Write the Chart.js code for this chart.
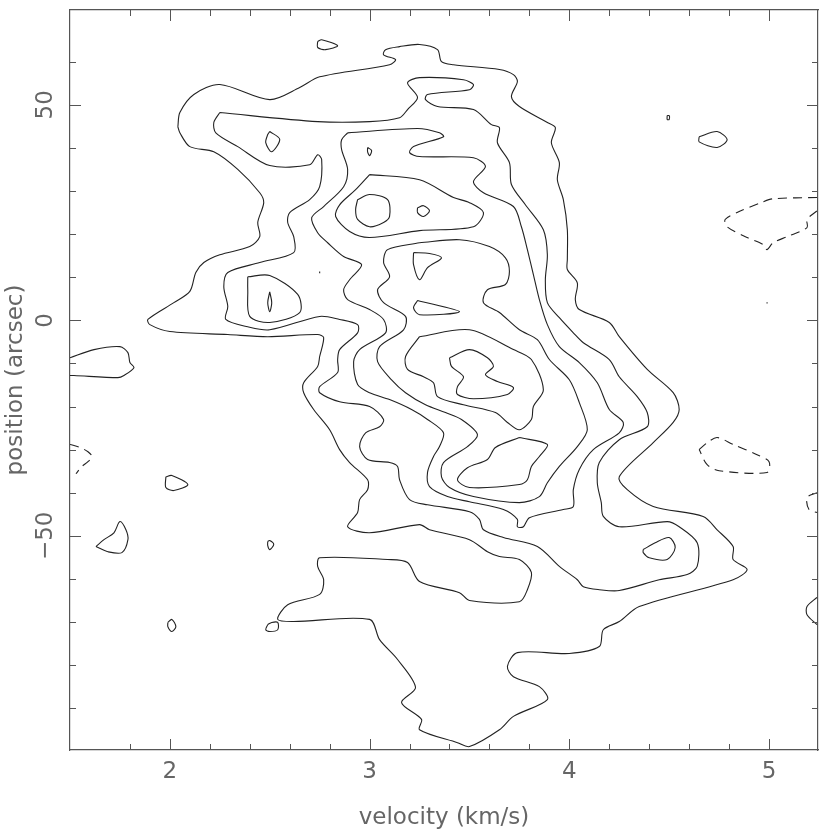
<!DOCTYPE html>
<html>
<head>
<meta charset="utf-8">
<script src="https://cdn.jsdelivr.net/npm/chart.js@4.4.1/dist/chart.umd.min.js"></script>
<style>
  html, body { margin: 0; padding: 0; background: #fff; }
  canvas { display: block; }
</style>
</head>
<body>
<canvas id="pvChart" width="830" height="832"></canvas>
<script>
// Contours, as [velocity (km/s), position (arcsec)]

// lowest level, the big envelope
const outerLevel = [[2.04,44.9],[2.05,48.2],[2.12,52.4],[2.25,54.7],[2.50,51.2],[2.65,54.0],[2.75,56.5],[3.10,59.3],[3.13,60.5],[3.07,61.6],[3.08,62.8],[3.15,63.5],[3.25,64.0],[3.34,62.8],[3.36,60.0],[3.42,59.3],[3.65,58.2],[3.72,57.0],[3.74,55.4],[3.71,51.9],[3.75,49.6],[3.89,45.9],[3.93,44.7],[3.91,41.2],[3.95,36.6],[3.94,32.6],[3.97,28.0],[3.99,21.0],[3.99,14.1],[3.99,11.8],[4.04,8.7],[4.03,4.8],[4.05,2.5],[4.20,-0.5],[4.25,-3.8],[4.39,-11.4],[4.52,-16.8],[4.55,-20.7],[4.52,-23.7],[4.42,-28.4],[4.25,-36.3],[4.29,-39.3],[4.42,-43.2],[4.67,-45.5],[4.74,-48.6],[4.82,-52.5],[4.82,-55.5],[4.89,-57.8],[4.82,-60.2],[4.35,-66.4],[4.25,-69.9],[4.17,-71.8],[4.15,-75.7],[4.00,-77.3],[3.74,-77.1],[3.69,-80.3],[3.72,-82.7],[3.85,-85.0],[3.89,-88.0],[3.72,-91.9],[3.65,-95.0],[3.50,-98.9],[3.44,-98.0],[3.25,-95.0],[3.26,-92.6],[3.16,-88.7],[3.23,-85.2],[3.14,-78.7],[3.05,-74.1],[3.00,-69.4],[2.62,-69.9],[2.54,-69.4],[2.59,-66.0],[2.75,-63.6],[2.77,-60.2],[2.74,-57.1],[2.75,-55.1],[3.09,-55.5],[3.19,-56.2],[3.25,-60.6],[3.45,-63.2],[3.50,-65.0],[3.75,-65.3],[3.79,-62.5],[3.81,-58.5],[3.75,-55.5],[3.65,-54.8],[3.59,-53.7],[3.50,-50.9],[3.30,-48.6],[3.25,-47.4],[3.00,-49.3],[2.89,-47.9],[2.94,-44.6],[2.95,-41.6],[2.99,-39.3],[2.99,-37.0],[2.90,-33.0],[2.85,-30.0],[2.80,-25.4],[2.72,-20.7],[2.67,-16.8],[2.67,-14.5],[2.74,-10.7],[2.75,-8.4],[2.77,-4.0],[2.74,-3.3],[2.49,-3.8],[2.29,-3.3],[2.00,-2.6],[1.90,-1.0],[1.89,0.2],[2.02,4.1],[2.10,6.7],[2.13,11.1],[2.17,13.4],[2.25,15.2],[2.40,17.1],[2.45,19.4],[2.44,22.7],[2.47,27.3],[2.45,29.6],[2.34,35.0],[2.22,39.1],[2.10,40.3],[2.05,43.5],[2.04,44.9]];

const secondLevel = [[2.25,48.2],[2.74,46.1],[3.00,46.1],[3.15,47.0],[3.19,48.9],[3.24,51.7],[3.19,55.1],[3.25,56.3],[3.47,55.8],[3.52,54.7],[3.50,53.5],[3.29,52.4],[3.28,51.2],[3.34,49.6],[3.52,48.9],[3.61,45.4],[3.65,44.7],[3.64,41.2],[3.70,36.6],[3.71,31.5],[3.78,26.8],[3.87,21.0],[3.89,15.2],[3.88,9.4],[3.89,4.1],[3.95,0.6],[4.02,-2.9],[4.07,-5.2],[4.20,-9.1],[4.25,-13.1],[4.34,-17.7],[4.39,-21.4],[4.39,-24.7],[4.25,-27.7],[4.15,-33.0],[4.14,-37.7],[4.16,-42.3],[4.17,-45.5],[4.25,-47.9],[4.49,-46.7],[4.55,-47.9],[4.64,-51.6],[4.64,-57.1],[4.59,-59.0],[4.45,-60.2],[4.25,-62.7],[4.15,-62.5],[4.07,-61.8],[4.04,-60.2],[3.95,-57.1],[3.84,-52.5],[3.67,-50.4],[3.57,-48.6],[3.55,-46.2],[3.50,-44.4],[3.29,-42.8],[3.20,-41.6],[3.15,-37.0],[3.14,-33.9],[3.10,-33.0],[2.99,-32.3],[2.95,-29.3],[2.98,-26.1],[3.05,-24.7],[3.07,-23.0],[3.00,-20.0],[2.85,-18.9],[2.75,-16.8],[2.75,-15.4],[2.84,-12.1],[2.84,-9.1],[2.85,-6.8],[2.94,-2.9],[2.94,-1.0],[2.85,0.2],[2.75,0.9],[2.50,-2.2],[2.39,-1.5],[2.28,0.2],[2.29,3.2],[2.27,7.8],[2.29,11.1],[2.45,13.4],[2.62,15.7],[2.62,19.4],[2.59,22.7],[2.60,25.0],[2.70,28.0],[2.75,31.0],[2.76,37.3],[2.74,38.4],[2.70,36.1],[2.50,35.9],[2.34,40.3],[2.23,43.5],[2.22,45.9],[2.25,48.2]];

const thirdLevel = [[2.89,43.5],[3.24,44.5],[3.35,43.5],[3.37,42.6],[3.22,40.3],[3.20,38.9],[3.25,38.0],[3.52,37.7],[3.58,35.7],[3.52,32.2],[3.57,29.6],[3.72,26.4],[3.76,21.7],[3.79,16.4],[3.82,10.6],[3.85,4.8],[3.89,-1.0],[3.95,-6.1],[4.05,-9.8],[4.14,-14.5],[4.20,-20.7],[4.27,-23.7],[4.25,-26.1],[4.12,-30.0],[4.05,-34.6],[4.02,-39.3],[4.02,-43.2],[3.97,-43.9],[3.80,-45.8],[3.77,-47.9],[3.74,-47.9],[3.74,-46.2],[3.67,-43.9],[3.50,-42.1],[3.39,-40.9],[3.30,-38.6],[3.29,-35.3],[3.32,-31.6],[3.35,-29.3],[3.37,-26.1],[3.29,-23.0],[3.21,-20.7],[3.10,-18.4],[3.00,-16.8],[2.94,-14.9],[2.92,-9.6],[2.95,-6.8],[3.08,-2.9],[3.07,0.2],[3.00,2.5],[2.89,4.8],[2.87,7.1],[2.90,9.4],[2.96,12.9],[2.87,14.8],[2.79,18.0],[2.74,20.3],[2.71,23.8],[2.77,26.4],[2.87,31.0],[2.89,35.0],[2.86,39.6],[2.86,41.9],[2.89,43.5]];

const fourthLevel = [[3.25,18.0],[3.45,18.7],[3.60,17.1],[3.68,14.5],[3.70,11.3],[3.68,8.3],[3.59,7.1],[3.57,4.1],[3.65,1.8],[3.75,-2.2],[3.84,-4.5],[3.90,-9.1],[4.00,-13.8],[4.05,-19.1],[4.09,-25.4],[4.04,-29.3],[3.95,-33.9],[3.89,-37.7],[3.85,-40.9],[3.75,-42.3],[3.52,-40.9],[3.40,-38.8],[3.36,-36.3],[3.37,-33.0],[3.49,-29.3],[3.54,-26.5],[3.46,-23.0],[3.38,-21.4],[3.28,-19.6],[3.18,-16.8],[3.11,-13.8],[3.04,-9.6],[3.05,-6.1],[3.17,-2.2],[3.18,0.9],[3.07,4.1],[3.04,7.1],[3.10,10.1],[3.07,13.4],[3.09,16.4],[3.25,18.0]];

// closed rings round the peak near 3 km/s, +25"
const peakTwoRing = [[3.00,33.8],[3.25,32.6],[3.42,28.5],[3.50,27.3],[3.57,25.0],[3.52,21.7],[3.25,20.8],[3.00,19.2],[2.90,20.6],[2.83,24.1],[2.85,26.8],[2.93,30.3],[3.00,33.8]];
const peakTwoCore = [[2.94,28.0],[3.00,29.2],[3.09,28.0],[3.10,24.1],[3.07,22.7],[3.00,21.7],[2.94,23.4],[2.93,25.7],[2.94,28.0]];

// rings round the peak near 3.5 km/s, -12"
const peakThreeRing = [[3.25,-3.8],[3.50,-2.2],[3.72,-6.8],[3.81,-9.1],[3.87,-16.1],[3.82,-20.0],[3.81,-23.0],[3.75,-25.4],[3.69,-23.7],[3.63,-21.4],[3.47,-19.6],[3.34,-17.7],[3.32,-14.5],[3.27,-13.1],[3.19,-11.4],[3.18,-8.4],[3.25,-3.8]];
const peakThreeCore = [[3.40,-8.7],[3.50,-6.8],[3.59,-8.7],[3.62,-10.7],[3.58,-12.6],[3.64,-14.2],[3.72,-15.6],[3.69,-17.2],[3.52,-18.2],[3.44,-17.2],[3.44,-15.4],[3.47,-13.1],[3.41,-10.7],[3.40,-8.7]];

// ring round the peak near 3.6 km/s, -33"
const peakFourCore = [[3.75,-27.2],[3.89,-28.8],[3.85,-31.6],[3.81,-33.9],[3.79,-37.0],[3.75,-38.1],[3.50,-38.8],[3.44,-37.0],[3.49,-34.2],[3.59,-32.3],[3.63,-29.5],[3.75,-27.2]];

// rings round the peak near 2.5 km/s, +5"
const peakOneRing = [[2.39,10.1],[2.50,10.4],[2.64,6.0],[2.65,1.8],[2.50,-0.5],[2.40,0.9],[2.39,7.1],[2.39,10.1]];
const peakOneCore = [[2.50,6.6],[2.51,4.1],[2.50,2.0],[2.49,4.1],[2.50,6.6]];

// small isolated islands
const islandA = [[2.50,43.8],[2.55,42.0],[2.51,39.1],[2.48,41.2],[2.49,43.1],[2.50,43.8]];
const islandB = [[2.74,64.7],[2.76,65.1],[2.84,63.7],[2.78,62.8],[2.74,63.3],[2.74,64.7]];
const islandC = [[2.99,40.1],[3.01,39.4],[3.00,38.2],[2.99,39.1],[2.99,40.1]];
const islandD = [[3.24,26.1],[3.27,26.6],[3.30,25.4],[3.27,24.1],[3.24,25.0],[3.24,26.1]];
const islandE = [[3.22,15.7],[3.30,15.5],[3.36,14.5],[3.29,12.2],[3.25,9.4],[3.22,12.9],[3.22,15.7]];
const islandF = [[3.24,4.6],[3.45,2.0],[3.25,1.3],[3.22,2.9],[3.24,4.6]];
const islandG = [[4.65,42.6],[4.74,43.8],[4.79,41.9],[4.74,40.1],[4.65,41.4],[4.65,42.6]];
const islandH = [[4.49,47.5],[4.50,47.5],[4.50,46.6],[4.49,46.6],[4.49,47.5]];
const islandI = [[4.37,-53.2],[4.43,-51.6],[4.50,-50.4],[4.53,-52.7],[4.49,-55.5],[4.40,-55.1],[4.37,-53.9],[4.37,-53.2]];
const islandJ = [[1.50,-8.7],[1.62,-6.8],[1.75,-6.1],[1.79,-7.5],[1.80,-9.8],[1.82,-11.0],[1.77,-12.8],[1.74,-13.3],[1.52,-12.8],[1.50,-12.8]];
const islandK = [[1.98,-36.3],[2.01,-36.0],[2.09,-38.1],[2.02,-39.5],[1.98,-38.8],[1.98,-36.3]];
const islandL = [[1.63,-52.5],[1.67,-50.9],[1.72,-49.3],[1.75,-46.7],[1.78,-48.6],[1.79,-50.9],[1.76,-53.9],[1.69,-53.7],[1.63,-52.5]];
const islandM = [[2.49,-51.3],[2.50,-51.1],[2.52,-52.0],[2.50,-53.2],[2.49,-52.3],[2.49,-51.3]];
const islandN = [[1.99,-70.1],[2.01,-69.4],[2.03,-71.1],[2.01,-72.2],[1.99,-71.1],[1.99,-70.1]];
const islandO = [[2.49,-70.6],[2.51,-70.1],[2.54,-70.1],[2.54,-71.8],[2.50,-72.2],[2.48,-71.8],[2.49,-70.6]];
const islandP = [[5.24,-64.3],[5.19,-66.4],[5.19,-68.3],[5.24,-70.6]];
const specks = [[[2.75,11.3],[2.75,10.9]], [[4.99,4.2],[4.99,3.9]]];

// negative levels (dashed)
const negativeA = [[5.24,28.5],[5.02,28.2],[4.97,27.5],[4.84,25.0],[4.78,23.4],[4.79,21.7],[4.89,19.2],[4.97,17.6],[4.99,16.4],[5.02,18.0],[5.09,19.4],[5.19,21.5],[5.19,23.4],[5.24,25.4]];
const negativeB = [[4.65,-30.0],[4.69,-28.4],[4.74,-27.2],[4.82,-28.8],[4.94,-31.2],[5.00,-32.8],[4.99,-35.3],[4.75,-34.9],[4.69,-33.5],[4.65,-30.0]];
const negativeC = [[5.24,-40.0],[5.19,-41.1],[5.20,-43.9],[5.24,-44.6]];
const negativeD = [[1.50,-28.8],[1.55,-29.5],[1.59,-30.5],[1.61,-31.6],[1.59,-32.8],[1.56,-33.9],[1.53,-35.6]];

const solidContours = [outerLevel, secondLevel, thirdLevel, fourthLevel, peakTwoRing, peakTwoCore,
  peakThreeRing, peakThreeCore, peakFourCore, peakOneRing, peakOneCore,
  islandA, islandB, islandC, islandD, islandE, islandF, islandG, islandH, islandI,
  islandJ, islandK, islandL, islandM, islandN, islandO, islandP, ...specks];
const dashedContours = [negativeA, negativeB, negativeC, negativeD];

const xTickLabels = [2, 3, 4, 5];
const yTickLabels = [-50, 0, 50];
const xRange = [1.5, 5.245];
const yRange = [-99.7, 72];

const lineColor = "#222";
const axisColor = "#555";
const textColor = "#666";
const labelFont = "23px 'DejaVu Sans'";

function toDataset(points, dashed) {
  return {
    data: points.map(([v, p]) => ({ x: v, y: p })),
    showLine: true,
    pointRadius: 0,
    borderColor: lineColor,
    borderWidth: 1.1,
    borderDash: dashed ? [9, 6] : [],
    tension: 0.3,
    fill: false,
  };
}

// Inward tick marks on all four sides, tick labels and axis titles
const frameTicks = {
  id: "frameTicks",
  afterDraw(chart) {
    const { ctx, chartArea: a, scales } = chart;
    const xs = scales.x;
    const ys = scales.y;
    ctx.save();
    ctx.strokeStyle = axisColor;
    ctx.lineWidth = 1;
    ctx.beginPath();
    xs.ticks.forEach((t) => {
      const steps = t.value / 0.2;
      if (Math.abs(steps - Math.round(steps)) > 1e-6) return;
      const major = Math.abs(t.value - Math.round(t.value)) < 1e-6;
      const len = major ? 11 : 6;
      const px = Math.round(xs.getPixelForValue(t.value)) + 0.5;
      ctx.moveTo(px, a.bottom);
      ctx.lineTo(px, a.bottom - len);
      ctx.moveTo(px, a.top);
      ctx.lineTo(px, a.top + len);
    });
    ys.ticks.forEach((t) => {
      if (Math.abs(t.value % 10) > 1e-6) return;
      const major = Math.abs(t.value % 50) < 1e-6;
      const len = major ? 11 : 6;
      const py = Math.round(ys.getPixelForValue(t.value)) + 0.5;
      ctx.moveTo(a.left, py);
      ctx.lineTo(a.left + len, py);
      ctx.moveTo(a.right, py);
      ctx.lineTo(a.right - len, py);
    });
    ctx.stroke();

    ctx.fillStyle = textColor;
    ctx.font = labelFont;
    ctx.textAlign = "center";
    ctx.textBaseline = "middle";
    xTickLabels.forEach((v) => {
      ctx.fillText(String(v), xs.getPixelForValue(v), a.bottom + 22);
    });
    yTickLabels.forEach((v) => {
      ctx.save();
      ctx.translate(a.left - 24, ys.getPixelForValue(v));
      ctx.rotate(-Math.PI / 2);
      ctx.fillText(v < 0 ? "\u2212" + Math.abs(v) : String(v), 0, 0);
      ctx.restore();
    });

    ctx.fillText("velocity (km/s)", (a.left + a.right) / 2, a.bottom + 68);
    ctx.save();
    ctx.translate(16, (a.top + a.bottom) / 2);
    ctx.rotate(-Math.PI / 2);
    ctx.fillText("position (arcsec)", 0, 0);
    ctx.restore();
    ctx.restore();
  },
};

function frameAxis(position, range, extra) {
  return Object.assign({
    type: "linear",
    position: position,
    min: range[0],
    max: range[1],
    ticks: { display: false },
    grid: { display: false, drawTicks: false },
    border: { display: true, color: axisColor, width: 1.2 },
  }, extra || {});
}

const datasets = [
  ...solidContours.map((c) => toDataset(c, false)),
  ...dashedContours.map((c) => toDataset(c, true)),
];

const ctx = document.getElementById("pvChart").getContext("2d");
new Chart(ctx, {
  type: "scatter",
  data: { datasets: datasets },
  options: {
    responsive: false,
    animation: false,
    events: [],
    layout: { padding: { left: 70, right: 12, top: 10, bottom: 82 } },
    plugins: { legend: { display: false }, tooltip: { enabled: false } },
    scales: {
      x: frameAxis("bottom", xRange, { ticks: { display: false, stepSize: 0.2 } }),
      y: frameAxis("left", yRange, { ticks: { display: false, stepSize: 10 } }),
      x2: frameAxis("top", xRange),
      y2: frameAxis("right", yRange),
    },
  },
  plugins: [frameTicks],
});
</script>
</body>
</html>
